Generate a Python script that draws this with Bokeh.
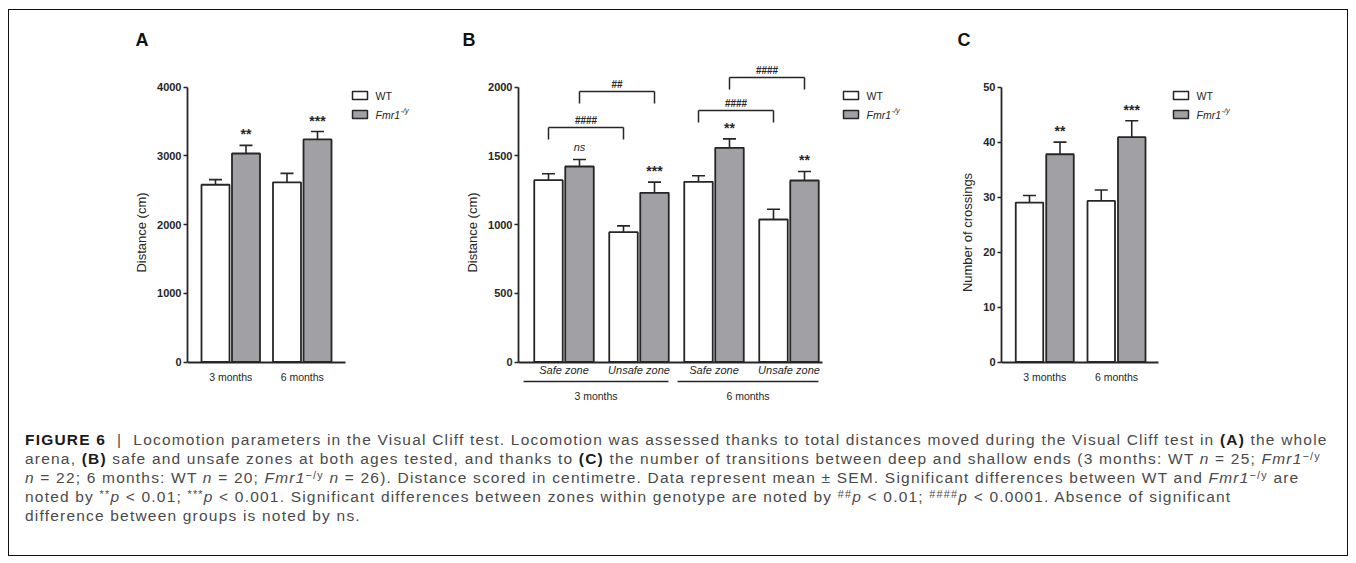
from bokeh.plotting import figure
from bokeh.models import Range1d, FixedTicker, Whisker, TeeHead, ColumnDataSource, Div
from bokeh.layouts import row, column
from bokeh.embed import file_html
from bokeh.resources import INLINE
from bokeh.core.properties import value

# ---------------- data ----------------
ages = ["3 months", "6 months"]

a_wt_mean = [2580, 2615]
a_wt_sem = [75, 130]
a_fmr_mean = [3035, 3240]
a_fmr_sem = [118, 115]
a_sig = ["**", "***"]

b_zones = ["Safe zone", "Unsafe zone", "Safe zone", "Unsafe zone"]
b_ages = ["3 months", "6 months"]
b_wt_mean = [1323, 945, 1311, 1037]
b_wt_sem = [47, 46, 44, 75]
b_fmr_mean = [1423, 1231, 1559, 1321]
b_fmr_sem = [51, 78, 65, 66]
b_sig = ["ns", "***", "**", "**"]
b_br_from = [0, 0, 2, 2]
b_br_to = [1, 1, 3, 3]
b_br_geno = ["WT", "Fmr1", "WT", "Fmr1"]
b_br_height = [1707, 1969, 1830, 2071]
b_br_label = ["####", "##", "####", "####"]

c_wt_mean = [29.0, 29.3]
c_wt_sem = [1.3, 2.0]
c_fmr_mean = [37.8, 40.9]
c_fmr_sem = [2.2, 3.0]
c_sig = ["**", "***"]

# ---------------- style / layout ----------------
INK = "#262626"
GRAY = "#a1a1a5"
FONT = "Liberation Sans"
FIG_Y0 = 10
FIG_H = 400
FRAME_T = 60
FRAME_B = 404
ZERO_PX = 361.5
TOP_PX = 86.7


def make_panel(fig_x0, fig_w, frame_l, frame_r, g0, gsp, ymax, ystep, ylabel, axis_end, xlabels,
               xstandoff, xitalic, letter, letter_x):
    pxper = (ZERO_PX - TOP_PX) / ymax
    X = lambda px: (px - g0) / gsp
    Y = lambda py: (ZERO_PX - py) / pxper
    p = figure(width=fig_w, height=FIG_H, title=letter,
               x_range=Range1d(X(frame_l), X(frame_r)),
               y_range=Range1d(Y(FRAME_B), Y(FRAME_T)),
               output_backend="svg", toolbar_location=None,
               min_border_left=frame_l - fig_x0,
               min_border_right=fig_x0 + fig_w - frame_r,
               min_border_top=FRAME_T - FIG_Y0,
               min_border_bottom=FIG_Y0 + FIG_H - FRAME_B,
               background_fill_color="white", border_fill_color="white")
    p.title.align = "left"
    p.title.offset = letter_x - frame_l
    p.title.text_font = FONT
    p.title.text_font_size = "18px"
    p.title.text_font_style = "bold"
    p.title.text_color = "#111"
    p.title.standoff = 21
    p.outline_line_color = None
    p.xgrid.visible = False
    p.ygrid.visible = False
    ya = p.yaxis[0]
    ticks = []
    t = 0
    while t <= ymax + 1e-9:
        ticks.append(t)
        t += ystep
    ya.ticker = FixedTicker(ticks=ticks)
    ya.bounds = (0, ymax)
    ya.axis_label = ylabel
    ya.axis_label_text_font = FONT
    ya.axis_label_text_font_size = "13px"
    ya.axis_label_text_font_style = "normal"
    ya.axis_label_text_color = INK
    ya.axis_label_standoff = 5
    ya.major_label_text_font = FONT
    ya.major_label_text_font_size = "11px"
    ya.major_label_text_font_style = "bold"
    ya.major_label_text_color = INK
    ya.major_label_standoff = 2
    ya.major_tick_out = 4
    ya.major_tick_in = 0
    ya.minor_tick_out = 0
    ya.minor_tick_in = 0
    ya.axis_line_width = 1.8
    ya.axis_line_color = INK
    ya.major_tick_line_width = 1.6
    ya.major_tick_line_color = INK

    xa = p.xaxis[0]
    xa.fixed_location = 0
    xa.bounds = (X(frame_l), X(axis_end))
    xa.ticker = FixedTicker(ticks=list(range(len(xlabels))))
    xa.major_label_overrides = {i: lab for i, lab in enumerate(xlabels)}
    xa.major_label_text_font = FONT
    xa.major_label_text_font_size = "11px" if xitalic else "10.5px"
    xa.major_label_text_font_style = "italic" if xitalic else "normal"
    xa.major_label_text_color = INK
    xa.major_label_standoff = xstandoff
    xa.major_tick_out = 0
    xa.major_tick_in = 0
    xa.minor_tick_out = 0
    xa.minor_tick_in = 0
    xa.axis_line_width = 1.8
    xa.axis_line_color = INK
    return p, X, Y, pxper


def draw_bars(p, pxper, gsp, wt_mean, wt_sem, fmr_mean, fmr_sem, sig, off_px, bw_px):
    n = len(wt_mean)
    off = off_px / gsp
    bw = bw_px / gsp
    xw = [i - off for i in range(n)]
    xf = [i + off for i in range(n)]
    for xs, m, s, fill in ((xw, wt_mean, wt_sem, "white"), (xf, fmr_mean, fmr_sem, GRAY)):
        p.vbar(x=xs, top=m, bottom=0, width=bw, fill_color=fill, line_color=INK, line_width=1.8)
        src = ColumnDataSource(dict(base=xs, lower=m, upper=[a + b for a, b in zip(m, s)]))
        p.add_layout(Whisker(source=src, base="base", lower="lower", upper="upper", dimension="height",
                             lower_head=None,
                             upper_head=TeeHead(size=13, line_color=INK, line_width=1.6),
                             line_color=INK, line_width=1.6))
    for x, m, s, t in zip(xf, fmr_mean, fmr_sem, sig):
        star = "*" in t
        gap = 11 if star else 12
        p.text(x=[x], y=[m + s + gap / pxper], text=[t], text_font=value(FONT),
               text_font_size="14px" if star else "11px",
               text_font_style="bold" if star else "italic",
               text_align="center", text_baseline="alphabetic", text_color=INK)
    return xw, xf


def draw_legend(p, X, Y, box_l):
    for fill, yc in (("white", 95), (GRAY, 114)):
        p.quad(left=[X(box_l)], right=[X(box_l + 15)], top=[Y(yc - 4)], bottom=[Y(yc + 4)],
               fill_color=fill, line_color=INK, line_width=1.5)
    p.text(x=[X(box_l + 23)], y=[Y(95)], text=["WT"], text_font=value(FONT), text_font_size="10.5px",
           text_baseline="middle", text_color=INK)
    p.text(x=[X(box_l + 23)], y=[Y(114)], text=["Fmr1"], text_font=value(FONT), text_font_size="10.5px",
           text_font_style="italic", text_baseline="middle", text_color=INK)
    p.text(x=[X(box_l + 48)], y=[Y(110)], text=["-/y"], text_font=value(FONT), text_font_size="7.5px",
           text_font_style="italic", text_baseline="middle", text_color=INK)


# ---------------- panel A ----------------
pA, XA, YA, kA = make_panel(9, 450, 187, 454, 230.25, 71.5, 4000, 1000, "Distance (cm)", 345, ages,
                            9, False, "A", 135)
draw_bars(pA, kA, 71.5, a_wt_mean, a_wt_sem, a_fmr_mean, a_fmr_sem, a_sig, 15.25, 28)
draw_legend(pA, XA, YA, 352)

# ---------------- panel B ----------------
pB, XB, YB, kB = make_panel(459, 476, 518, 930, 563.5, 75, 2000, 500, "Distance (cm)", 822, b_zones,
                            2, True, "B", 462)
xwB, xfB = draw_bars(pB, kB, 75, b_wt_mean, b_wt_sem, b_fmr_mean, b_fmr_sem, b_sig, 15.5, 28.5)
draw_legend(pB, XB, YB, 843)
leg = 12 / kB
x0s, y0s, x1s, y1s = [], [], [], []
lx, ly = [], []
for i, j, g, h in zip(b_br_from, b_br_to, b_br_geno, b_br_height):
    xs = xwB if g == "WT" else xfB
    a, b = xs[i], xs[j]
    x0s += [a, a, b]; x1s += [b, a, b]
    y0s += [h, h, h]; y1s += [h, h - leg, h - leg]
    lx.append((a + b) / 2)
    ly.append(h + 7 / kB)
pB.segment(x0=x0s, y0=y0s, x1=x1s, y1=y1s, line_color=INK, line_width=1.5)
pB.text(x=lx, y=ly, text=b_br_label, text_font=value(FONT), text_font_size="10px", text_font_style="bold",
        text_align="center", text_baseline="alphabetic", text_color=INK)
ux0 = [XB(523), XB(677)]
ux1 = [XB(668), XB(818)]
pB.segment(x0=ux0, y0=[YB(381)] * 2, x1=ux1, y1=[YB(381)] * 2, line_color=INK, line_width=1.5)
pB.text(x=[(a + b) / 2 for a, b in zip(ux0, ux1)], y=[YB(395)] * 2, text=b_ages, text_font=value(FONT),
        text_font_size="10.5px", text_align="center", text_baseline="middle", text_color=INK)

# ---------------- panel C ----------------
pC, XC, YC, kC = make_panel(935, 412, 1001, 1342, 1044.25, 71.75, 50, 10, "Number of crossings", 1158, ages,
                            9, False, "C", 957)
draw_bars(pC, kC, 71.75, c_wt_mean, c_wt_sem, c_fmr_mean, c_fmr_sem, c_sig, 15.25, 27.5)
draw_legend(pC, XC, YC, 1173)

# ---------------- caption ----------------
SUP = "<span style=\"position: relative; top: -0.35em; font-size: 70%; line-height: 0;\">{}</span>"
FMR = "<i>Fmr1</i>" + SUP.format("\u2212/y")
cap_lines = [
    "<b style=\"color:#1a1a1a\">FIGURE 6</b>&nbsp;&nbsp;|&nbsp;&nbsp;Locomotion parameters in the Visual Cliff test. Locomotion was assessed thanks to total distances moved during the Visual Cliff test in <b style=\"color:#1a1a1a\">(A)</b> the whole",
    "arena, <b style=\"color:#1a1a1a\">(B)</b> safe and unsafe zones at both ages tested, and thanks to <b style=\"color:#1a1a1a\">(C)</b> the number of transitions between deep and shallow ends (3 months: WT <i>n</i> = 25; " + FMR,
    "<i>n</i> = 22; 6 months: WT <i>n</i> = 20; " + FMR + " <i>n</i> = 26). Distance scored in centimetre. Data represent mean \u00b1 SEM. Significant differences between WT and " + FMR + " are",
    "noted by " + SUP.format("**") + "<i>p</i> &lt; 0.01; " + SUP.format("***") + "<i>p</i> &lt; 0.001. Significant differences between zones within genotype are noted by " + SUP.format("##") + "<i>p</i> &lt; 0.01; " + SUP.format("####") + "<i>p</i> &lt; 0.0001. Absence of significant",
    "difference between groups is noted by ns.",
]
cap_html = ("<div style=\"font-family: 'Liberation Sans', Arial, sans-serif; font-size: 15.5px; "
            "letter-spacing: 1.2px; line-height: 19px; color: #4a4a4a; white-space: nowrap; padding: 20px 0 0 16px;\">"
            + "<br>".join(cap_lines) + "</div>")
cap = Div(text=cap_html, width=1338, height=145, margin=0)

layout = column(row(pA, pB, pC), cap,
                styles={"border": "1px solid #111", "margin-left": "8px", "margin-top": "9px"})

open("out.html", "w").write(file_html(layout, INLINE))
